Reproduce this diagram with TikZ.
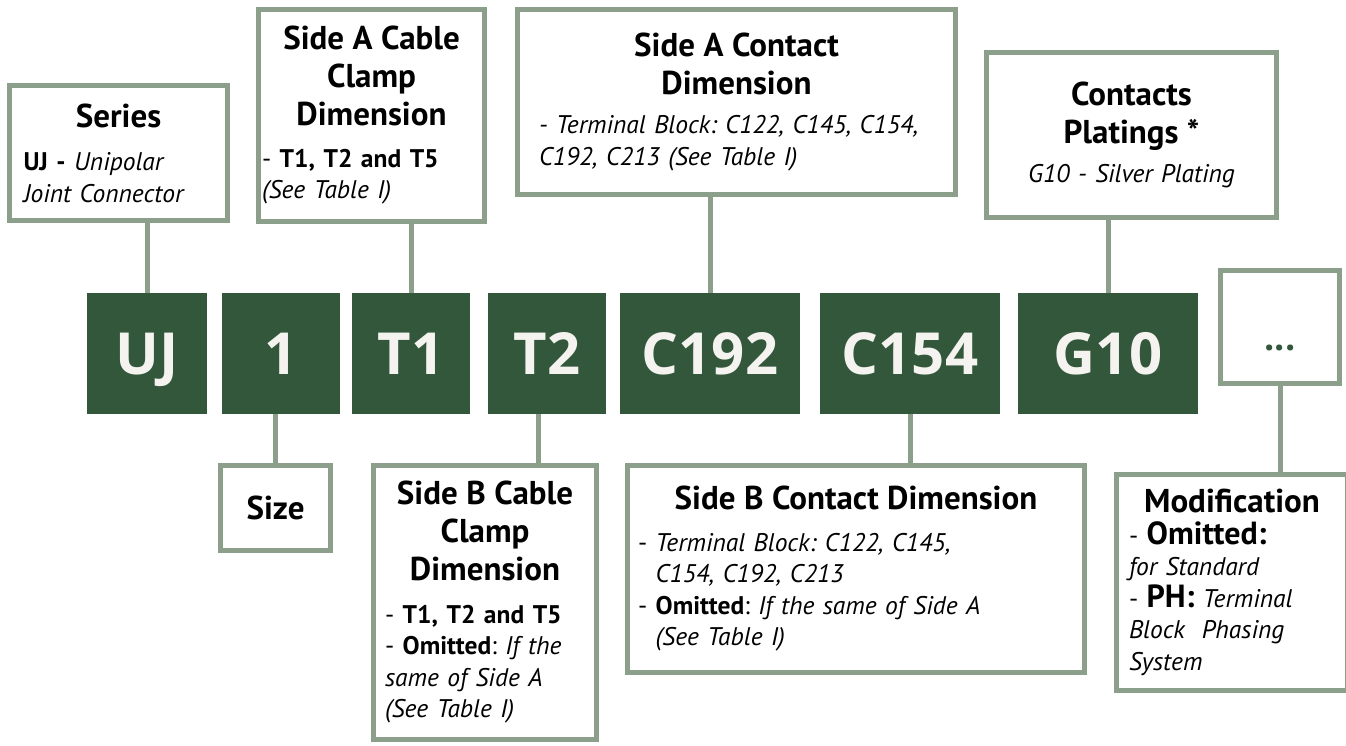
\documentclass[tikz,border=0pt]{standalone}
\usepackage{fontspec}
\setmainfont{PT Sans}
\newfontfamily\codefont{Open Sans}
\definecolor{darkgreen}{HTML}{32573A}
\definecolor{edgegreen}{HTML}{8B9F8A}
\definecolor{codewhite}{HTML}{F5F3F0}
\newcommand\ttl[2][10pt]{{\centering\fontsize{33}{38}\selectfont\bfseries #2\par}\vspace{#1}}
\newcommand\bdy{\fontsize{25.5}{31.5}\selectfont\frenchspacing}
\newcommand\bigbold{\fontsize{32}{31.5}\selectfont\bfseries}
\begin{document}
\begin{tikzpicture}[x=1pt, y=-1pt, line join=miter,
	codebox/.style={fill=darkgreen, text=codewhite, inner sep=0pt, minimum height=121pt,
		text height=42pt, text depth=0pt, font=\codefont\fontsize{58}{60}\selectfont\bfseries},
	labelbox/.style={draw=edgegreen, line width=5pt, fill=white, inner sep=0pt, align=left, font=\bdy},
	wire/.style={draw=edgegreen, line width=5pt}]
	\useasboundingbox (0,0) rectangle (1346,745);
	\clip (0,0) rectangle (1346,745);
	\def\cy{353.5}
	\node [codebox, minimum width=120pt] (uj) at (147,\cy) {UJ};
	\node [codebox, minimum width=118pt] (one) at (281,\cy) {1};
	\node [codebox, minimum width=118pt] (t1) at (411,\cy) {T1};
	\node [codebox, minimum width=118pt] (t2) at (547,\cy) {T2};
	\node [codebox, minimum width=180pt] (c192) at (710,\cy) {C192};
	\node [codebox, minimum width=180pt] (c154) at (910,\cy) {C154};
	\node [codebox, minimum width=180pt] (g10) at (1108,\cy) {G10};
	\node [labelbox, minimum width=119pt, minimum height=113pt, text height=46pt, text depth=0pt, align=center,
		font=\codefont\fontsize{36}{36}\selectfont\bfseries, text=darkgreen] (dots) at (1280,327) {...};
	\node [labelbox, minimum width=218pt, minimum height=135pt, text width=190pt] (series) at (118.5,153)
	{\ttl[12pt]{Series}\textbf{UJ -} \textit{Unipolar}\\ \textit{Joint Connector}};
	\node [labelbox, minimum width=226pt, minimum height=212pt, text width=219pt] (sideAcable) at (371.5,115.5)
	{\ttl{Side A Cable\\Clamp\\Dimension}- \textbf{T1, T2 and T5}\\ \textit{(See Table I)}};
	\node [labelbox, minimum width=438pt, minimum height=185pt, text width=395pt] (sideAcontact) at (736.5,102)
	{\ttl[8pt]{Side A Contact\\Dimension}\textit{- Terminal Block: C122, C145, C154,}\\ \textit{C192, C213 (See Table I)}};
	\node [labelbox, minimum width=290pt, minimum height=165pt, text width=270pt, align=center] (plating) at (1131.5,135)
	{\ttl[8pt]{Contacts\\Platings *}\textit{G10 - Silver Plating}};
	\node [labelbox, minimum width=110pt, minimum height=85pt, align=center,
		font=\fontsize{33}{38}\selectfont\bfseries] (size) at (275.5,508) {Size};
	\node [labelbox, minimum width=223pt, minimum height=274pt, text width=200pt] (sideBcable) at (485,602.5)
	{\ttl[11pt]{Side B Cable\\Clamp\\Dimension}- \textbf{T1, T2 and T5}\\- \textbf{Omitted}: \textit{If the}\\
		\textit{same of Side A}\\ \textit{(See Table I)}};
	\node [labelbox, minimum width=457pt, minimum height=207pt, text width=436pt] (sideBcontact) at (856,569)
	{\ttl{Side B Contact Dimension}- \textit{Terminal Block: C122, C145,}\\ \hphantom{- }\textit{C154, C192, C213}\\
		- \textbf{Omitted}: \textit{If the same of Side A}\\ \hphantom{- }\textit{(See Table I)}};
	\node [labelbox, minimum width=231pt, minimum height=216pt, text width=206pt] (modif) at (1232,582.5)
	{\ttl[0pt]{Modification}- {\bigbold Omitted:}\\ \textit{for Standard}\\ - {\bigbold PH:} \textit{Terminal}\\
		\textit{Block\ \ Phasing}\\ \textit{System}};
	\draw [wire] (uj.north) -- (uj.north |- series.south)
	(t1.north) -- (t1.north |- sideAcable.south)
	(c192.north) -- (c192.north |- sideAcontact.south)
	(g10.north) -- (g10.north |- plating.south)
	(size.north) -- (size.north |- one.south)
	([xshift=-9pt]t2.south) -- ([xshift=-9pt]t2.south |- sideBcable.north)
	(c154.south) -- (c154.south |- sideBcontact.north)
	(dots.south) -- (dots.south |- modif.north)
	;
\end{tikzpicture}
\end{document}
